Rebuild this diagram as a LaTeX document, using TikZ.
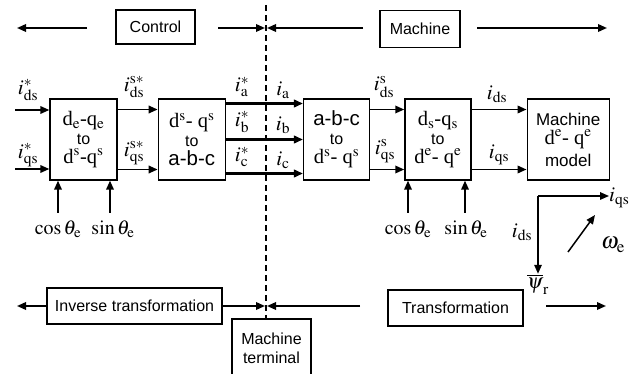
\documentclass[tikz,border=0pt]{standalone}
\usepackage{mathptmx}
\usepackage[no-math]{fontspec}
\setmainfont{Liberation Sans}
\newfontfamily\tnr{Liberation Serif}
\usetikzlibrary{positioning,arrows.meta}
\newcommand{\rmsub}[1]{$_\mathrm{#1}$}
\newcommand{\rmsup}[1]{$^\mathrm{#1}$}
\newcommand{\totx}{\fontsize{16}{16}\selectfont}
\newcommand{\mtx}{\fontsize{17}{17}\selectfont}

\begin{document}
\begin{tikzpicture}[x=1pt,y=-1pt,>={Triangle[length=9pt,width=7.5pt]},
  blk/.style={draw,line width=1.3pt,minimum width=67pt,minimum height=81pt,inner sep=0pt,align=center,
    font=\fontsize{20.5}{19}\selectfont},
  tbox/.style={draw,line width=1.3pt,inner sep=0pt,align=center,font=\fontsize{16}{19}\selectfont},
  lbl/.style={inner sep=0pt,font=\fontsize{21}{21}\selectfont},
  arr/.style={->,line width=1.8pt},
  bus/.style={->,line width=2.8pt},
  thin arr/.style={->,line width=1.5pt}]
  \clip (0,0) rectangle (643,374);

  % blocks of the chain
  \node [blk] (b1) at (83.5,139.5) {{\tnr d\rmsub{e}-q\rmsub{e}}\\{\totx to}\\{\tnr d\rmsup{s}-q\rmsup{s}}};
  \node [blk,right=40pt of b1] (b2) {{\tnr d\rmsup{s}- q\rmsup{s}}\\{\totx to}\\a-b-c};
  \node [blk,right=77pt of b2,minimum width=66pt] (b3) {a-b-c\\{\totx to}\\{\tnr d\rmsup{s}- q\rmsup{s}}};
  \node [blk,right=34pt of b3,minimum width=66pt] (b4) {{\tnr d\rmsub{s}-q\rmsub{s}}\\{\totx to}\\{\tnr d\rmsup{e}- q\rmsup{e}}};
  \node [blk,right=55pt of b4,minimum width=82pt] (b5) {{\mtx Machine}\\{\tnr d\rmsup{e}- q\rmsup{e}}\\[3pt]{\mtx model}};

  % inputs
  \coordinate (inD) at (15,110);
  \coordinate (inQ) at (15,169);
  \draw [arr] (inD) -- (inD -| b1.west);
  \draw [arr] (inQ) -- (inQ -| b1.west);
  \node [lbl] (iDs) at (28,90) {$i^{*}_{\mathrm{ds}}$};
  \node [lbl] (iQs) at (28,155) {$i^{*}_{\mathrm{qs}}$};

  % b1 -> b2
  \draw [arr] ([yshift=30pt]b1.east) -- ([yshift=30pt]b2.west);
  \draw [arr] ([yshift=-30pt]b1.east) -- ([yshift=-30pt]b2.west);
  \node [lbl] (iDss) at (134,87) {$i^{\mathrm{s}*}_{\mathrm{ds}}$};
  \node [lbl] (iQss) at (134,153) {$i^{\mathrm{s}*}_{\mathrm{qs}}$};

  % b2 -> b3
  \draw [bus] ([yshift=36pt]b2.east) -- ([yshift=36pt]b3.west);
  \draw [bus] (b2.east) -- (b3.west);
  \draw [bus] ([yshift=-34pt]b2.east) -- ([yshift=-34pt]b3.west);
  \node [lbl] (iAr) at (242,87) {$i^{*}_{\mathrm{a}}$};
  \node [lbl] (iBr) at (242,122) {$i^{*}_{\mathrm{b}}$};
  \node [lbl] (iCr) at (242,157) {$i^{*}_{\mathrm{c}}$};
  \node [lbl] (iA) at (283,90) {$i_{\mathrm{a}}$};
  \node [lbl] (iB) at (283,125) {$i_{\mathrm{b}}$};
  \node [lbl] (iC) at (283,160) {$i_{\mathrm{c}}$};

  % b3 -> b4 -> b5
  \draw [arr] ([yshift=30pt]b3.east) -- ([yshift=30pt]b4.west);
  \draw [arr] ([yshift=-30pt]b3.east) -- ([yshift=-30pt]b4.west);
  \draw [arr] ([yshift=30pt]b4.east) -- ([yshift=30pt]b5.west);
  \draw [arr] ([yshift=-30pt]b4.east) -- ([yshift=-30pt]b5.west);
  \node [lbl] (iDs2) at (384,87) {$i^{\mathrm{s}}_{\mathrm{ds}}$};
  \node [lbl] (iQs2) at (385,151) {$i^{\mathrm{s}}_{\mathrm{qs}}$};
  \node [lbl] (iDe) at (497,94) {$i_{\mathrm{ds}}$};
  \node [lbl] (iQe) at (499,155) {$i_{\mathrm{qs}}$};

  % cos / sin inputs
  \node [lbl,font=\fontsize{20}{20}\selectfont] (cos1) at (58,229) {$\cos\theta_{\mathrm{e}}$};
  \node [lbl,font=\fontsize{20}{20}\selectfont] (sin1) at (113,229) {$\sin\theta_{\mathrm{e}}$};
  \node [lbl,font=\fontsize{20}{20}\selectfont] (cos2) at (408,229) {$\cos\theta_{\mathrm{e}}$};
  \node [lbl,font=\fontsize{20}{20}\selectfont] (sin2) at (466,229) {$\sin\theta_{\mathrm{e}}$};
  \foreach \x/\b in {58/b1,110/b1,408/b4,465/b4}{
    \coordinate (tail) at (\x,213);
    \draw [arr] (tail) -- (tail |- \b.south);
  }

  % rotating frame
  \coordinate (org) at (538,196);
  \node [lbl,anchor=west] (axQ) at (609,198) {$i_{\mathrm{qs}}$};
  \node [lbl] (psi) at (538,284) {$\overline{\psi}_{\mathrm{r}}$};
  \node [lbl] (axD) at (522,232) {$i_{\mathrm{ds}}$};
  \draw [thin arr] (org) -- (org -| axQ.west);
  \draw [thin arr] (org) -- (psi.north);
  \coordinate (wS) at (568,252);
  \coordinate (wE) at (595,215);
  \draw [thin arr] (wS) -- (wE);
  \node [lbl,font=\fontsize{23}{23}\selectfont] (omg) at (613,245) {$\omega_{\mathrm{e}}$};

  % top row
  \node [tbox,minimum width=79pt,minimum height=34pt] (ctrl) at (155.5,27) {Control};
  \node [tbox,minimum width=80pt,minimum height=37pt] (mach) at (420,29) {Machine};
  \coordinate (ctrlL) at (87,28);
  \coordinate (ctrlLt) at (17,28);
  \coordinate (ctrlR) at (218,28);
  \coordinate (midA) at (265,28);
  \coordinate (machL) at (363,28);
  \coordinate (midB) at (267,28);
  \coordinate (machR) at (477,28);
  \coordinate (machRt) at (607,28);
  \draw [arr] (ctrlL) -- (ctrlLt);
  \draw [arr] (ctrlR) -- (midA);
  \draw [arr] (machL) -- (midB);
  \draw [arr] (machR) -- (machRt);

  % bottom row
  \node [tbox,minimum width=175pt,minimum height=36pt] (inv) at (134.5,306) {Inverse transformation};
  \node [tbox,minimum width=135pt,minimum height=36pt] (trf) at (455.5,308) {Transformation};
  \node [tbox,minimum width=79pt,minimum height=58pt] (term) at (271.5,348) {Machine\\terminal};
  \coordinate (invLt) at (17,306);
  \coordinate (midC) at (265,306);
  \coordinate (trfL) at (360,306);
  \coordinate (midD) at (267,306);
  \coordinate (trfR) at (546,306);
  \coordinate (trfRt) at (606,306);
  \draw [arr] (inv.west) -- (invLt);
  \draw [arr] (inv.east) -- (midC);
  \draw [arr] (trfL) -- (midD);
  \draw [arr] (trfR) -- (trfRt);

  % boundary between control and machine
  \coordinate (dtop) at (266,5);
  \draw [line width=1.4pt,dash pattern=on 6pt off 4pt] (dtop) -- (dtop |- term.north);
\end{tikzpicture}
\end{document}
